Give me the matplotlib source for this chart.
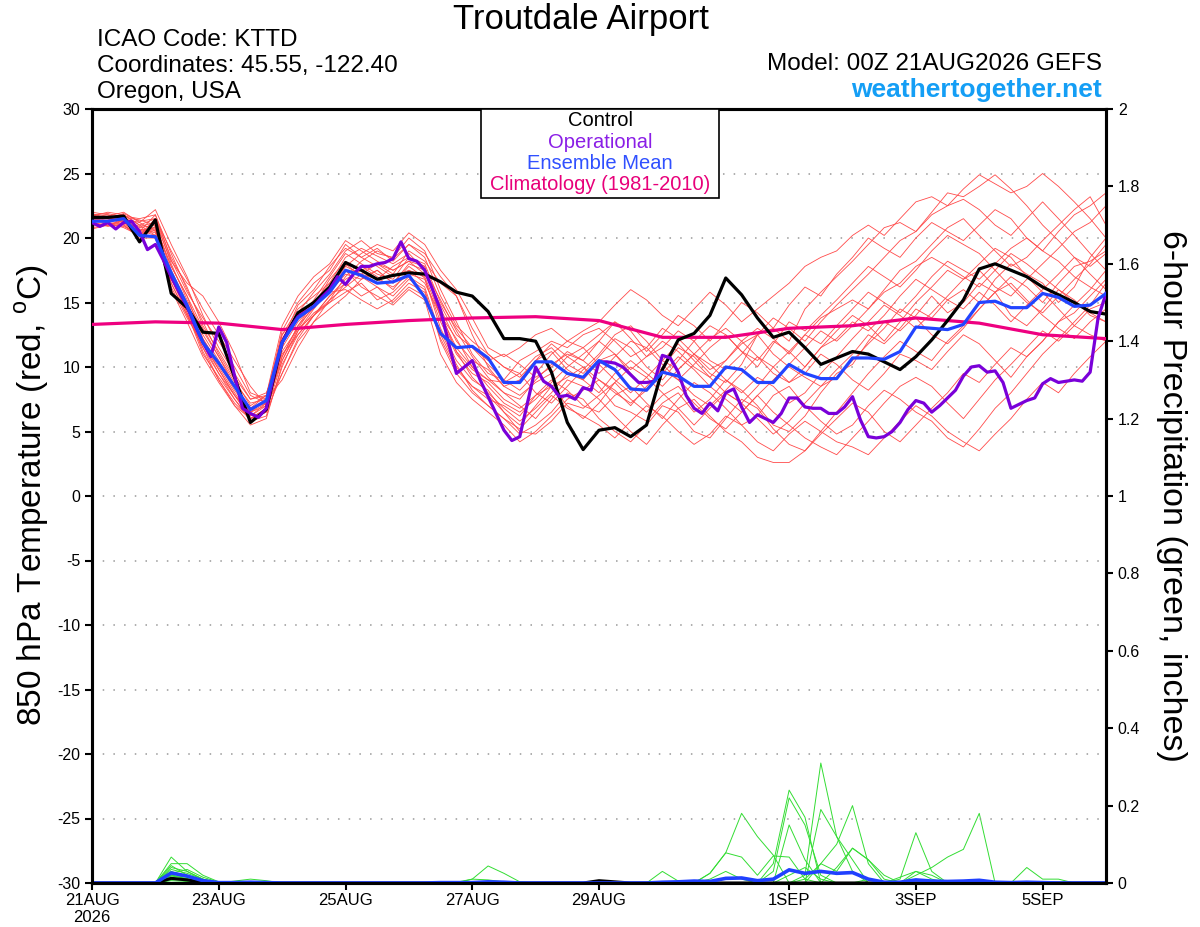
import numpy as np
import matplotlib
matplotlib.use("Agg")
import matplotlib.pyplot as plt
from matplotlib.patches import Rectangle

plt.rcParams['font.family'] = ['Liberation Sans', 'DejaVu Sans']
plt.rcParams['axes.unicode_minus'] = False
plt.rcParams['mathtext.fontset'] = 'custom'
plt.rcParams['mathtext.rm'] = 'Liberation Sans'

# ---------------------------------------------------------------
# données : pas de 6 h (65 points), opérationnel au pas de 3 h
# ---------------------------------------------------------------
heures = np.arange(0, 385, 6)
heures_oper = np.arange(0, 385, 3)
jours_clim = np.arange(0, 17)

controle = [21.6, 21.6, 21.7, 19.7, 21.4, 15.7, 14.6, 12.7, 12.6, 9.2, 5.7, 6.7, 11.9, 14.2, 15.0, 16.2,
            18.1, 17.5, 16.8, 17.1, 17.3, 17.2, 16.6, 15.8, 15.5, 14.3, 12.2, 12.2, 12.0, 9.6, 5.7, 3.6,
            5.1, 5.3, 4.6, 5.5, 9.8, 12.1, 12.6, 14.0, 16.9, 15.6, 13.8, 12.3, 12.7, 11.5, 10.2, 10.7,
            11.2, 11.0, 10.4, 9.8, 10.8, 12.1, 13.6, 15.2, 17.6, 18.0, 17.5, 17.0, 16.2, 15.6, 15.0, 14.3, 14.1]

moyenne = [21.3, 21.3, 21.5, 20.2, 20.1, 17.3, 14.8, 11.9, 10.3, 8.5, 6.7, 7.4, 11.9, 13.8, 14.7, 15.8,
           17.5, 17.1, 16.5, 16.6, 17.1, 15.4, 12.6, 11.5, 11.6, 10.7, 8.8, 8.8, 10.4, 10.4, 9.5, 9.2,
           10.5, 9.8, 8.3, 8.2, 9.6, 9.3, 8.5, 8.5, 10.0, 9.8, 8.8, 8.8, 10.2, 9.5, 9.1, 9.1,
           10.7, 10.7, 10.6, 11.2, 13.1, 13.0, 12.9, 13.3, 15.0, 15.1, 14.6, 14.6, 15.7, 15.4, 14.7, 14.8, 15.7]

operationnel = [21.2, 20.9, 21.2, 20.7, 21.2, 21.3, 20.5, 19.1, 19.5, 18.3, 17.0, 15.8, 14.7, 13.2, 11.9, 10.8,
                13.1, 11.9, 9.3, 6.8, 6.4, 6.1, 6.8, 9.5, 11.9, 13.0, 13.9, 14.3, 14.7, 15.4, 16.0, 17.0,
                16.4, 17.2, 17.8, 17.8, 18.0, 18.1, 18.4, 19.7, 18.4, 18.2, 17.5, 16.0, 14.4, 11.9, 9.5, 10.0,
                10.5, 9.0, 7.7, 6.4, 5.1, 4.3, 4.6, 7.3, 10.0, 8.9, 8.5, 7.7, 7.8, 7.5, 8.4, 8.2,
                10.4, 10.4, 10.3, 10.0, 9.4, 8.8, 8.8, 8.9, 10.9, 10.7, 9.6, 7.8, 6.8, 6.4, 7.2, 6.6,
                8.0, 8.3, 6.9, 5.7, 6.3, 6.0, 5.7, 6.4, 7.6, 7.6, 6.9, 6.8, 6.8, 6.4, 6.4, 6.9,
                7.7, 5.9, 4.6, 4.5, 4.6, 5.0, 5.7, 6.7, 7.4, 7.2, 6.5, 7.0, 7.6, 8.2, 9.3, 10.0,
                10.1, 9.6, 9.7, 8.8, 6.8, 7.1, 7.4, 7.6, 8.7, 9.1, 8.8, 8.9, 9.0, 8.9, 9.6, 13.8, 15.7]

climatologie = [13.3, 13.5, 13.4, 12.9, 13.3, 13.6, 13.8, 13.9, 13.6, 12.3, 12.3, 13.0, 13.2, 13.8, 13.4, 12.5, 12.2]

membres = [
    [21.8, 21.9, 21.6, 20.8, 21.0, 17.5, 15.0, 12.5, 10.5, 8.5, 6.5, 7.5, 12.5, 14.5, 15.5, 16.5,
     18.5, 19.2, 18.6, 18.0, 18.8, 17.5, 14.5, 12.0, 10.5, 9.8, 8.5, 9.0, 10.5, 11.2, 9.8, 9.0,
     10.5, 11.0, 9.5, 8.2, 10.0, 11.5, 10.8, 9.5, 8.8, 10.2, 12.5, 13.0, 12.0, 14.5, 15.8, 17.0,
     18.2, 19.5, 20.8, 21.2, 20.5, 22.0, 23.5, 23.2, 24.0, 24.9, 23.8, 22.5, 21.0, 19.8, 18.5, 17.2, 16.0],
    [21.2, 21.4, 21.8, 21.0, 20.2, 16.5, 14.0, 11.5, 9.5, 7.8, 6.0, 6.5, 10.5, 13.0, 14.8, 15.8,
     17.2, 16.8, 17.5, 16.5, 17.8, 16.9, 13.0, 10.5, 9.0, 8.2, 6.5, 5.5, 7.0, 8.5, 9.2, 10.0,
     8.5, 7.0, 6.5, 5.8, 7.2, 8.0, 6.5, 7.5, 9.0, 8.2, 7.0, 5.5, 5.0, 6.2, 8.0, 9.5,
     10.2, 12.0, 13.5, 12.8, 14.0, 15.5, 14.2, 15.0, 16.5, 15.8, 14.0, 13.2, 14.5, 16.0, 15.2, 14.0, 13.5],
    [20.8, 21.0, 21.2, 20.5, 21.8, 18.8, 16.0, 13.5, 11.0, 9.0, 7.0, 7.8, 12.0, 14.0, 15.0, 16.2,
     18.0, 17.0, 16.2, 15.5, 16.8, 16.0, 12.0, 9.5, 8.0, 7.0, 6.0, 4.8, 5.5, 6.5, 8.0, 7.5,
     6.0, 5.0, 4.2, 5.5, 7.0, 6.5, 5.0, 4.5, 6.0, 7.5, 6.8, 5.2, 4.0, 3.5, 4.8, 6.0,
     7.2, 6.5, 5.0, 4.2, 5.5, 6.8, 8.0, 9.5, 8.8, 10.2, 11.5, 10.8, 12.0, 13.5, 14.8, 16.0, 17.5],
    [21.5, 21.6, 21.0, 20.0, 20.0, 17.0, 14.8, 12.0, 10.0, 8.0, 6.2, 7.0, 11.8, 13.8, 15.2, 17.0,
     18.8, 18.0, 17.2, 16.8, 18.5, 18.0, 15.0, 13.0, 11.5, 10.2, 9.0, 10.5, 11.2, 12.0, 11.5, 12.5,
     13.0, 12.0, 10.8, 11.5, 13.0, 12.2, 11.0, 9.8, 10.5, 11.8, 12.5, 11.0, 10.0, 9.2, 8.5, 9.8,
     11.0, 12.5, 11.8, 13.0, 14.5, 13.8, 15.2, 16.0, 15.0, 16.8, 18.0, 17.2, 16.5, 15.0, 16.2, 18.5, 20.0],
    [22.0, 21.8, 21.5, 21.2, 22.2, 19.5, 17.0, 14.0, 11.5, 9.5, 7.5, 8.0, 11.0, 12.5, 14.0, 15.5,
     16.8, 17.5, 18.0, 17.2, 19.0, 18.2, 16.5, 15.5, 13.0, 11.0, 10.0, 9.5, 8.0, 7.2, 8.5, 9.8,
     11.0, 12.5, 13.2, 12.0, 10.5, 9.8, 11.0, 12.2, 13.0, 12.0, 10.8, 9.5, 8.8, 10.0, 11.5, 12.8,
     14.0, 13.2, 12.0, 13.5, 15.0, 16.2, 17.5, 16.8, 18.0, 19.2, 18.5, 17.0, 15.8, 14.5, 13.2, 12.5, 12.0],
    [21.0, 21.3, 21.5, 20.6, 20.8, 16.8, 14.2, 11.0, 9.2, 7.5, 5.8, 6.2, 10.0, 12.8, 14.2, 15.0,
     15.8, 16.5, 15.2, 15.8, 17.0, 16.2, 12.5, 10.0, 8.5, 7.5, 7.0, 6.2, 7.8, 9.0, 8.2, 7.0,
     6.5, 7.8, 8.5, 7.2, 6.0, 7.5, 8.8, 8.0, 6.8, 5.5, 6.2, 7.8, 8.5, 7.0, 5.8, 4.8,
     5.5, 7.0, 8.2, 7.5, 6.5, 5.8, 4.5, 3.8, 5.2, 6.8, 8.0, 9.5, 11.0, 12.2, 13.5, 14.8, 16.5],
    [21.6, 21.2, 20.8, 20.2, 21.5, 18.0, 15.2, 12.8, 10.8, 8.8, 7.2, 7.5, 12.8, 15.0, 16.5, 17.5,
     19.5, 18.5, 17.8, 17.0, 17.5, 16.5, 14.0, 11.5, 10.0, 9.0, 8.0, 7.5, 9.0, 10.2, 11.0, 10.5,
     12.0, 13.5, 12.8, 11.2, 12.5, 14.0, 13.2, 12.0, 13.5, 15.0, 14.2, 13.0, 14.8, 16.2, 15.5, 17.2,
     18.5, 20.0, 19.2, 18.5, 20.0, 21.2, 20.5, 19.8, 21.0, 22.2, 21.5, 20.0, 19.0, 20.5, 21.8, 22.5, 23.5],
    [21.4, 21.7, 22.0, 21.2, 20.5, 17.2, 14.5, 11.2, 9.0, 7.2, 6.0, 6.8, 10.8, 13.2, 14.6, 16.0,
     17.5, 16.2, 15.5, 14.8, 16.0, 15.2, 11.0, 8.8, 7.5, 6.5, 5.5, 4.2, 5.0, 6.2, 7.5, 8.2,
     9.0, 8.2, 7.0, 8.5, 9.8, 9.0, 7.8, 7.0, 8.2, 9.5, 10.8, 10.0, 8.8, 9.5, 11.0, 10.2,
     9.0, 8.2, 9.5, 11.0, 10.5, 9.8, 11.2, 12.5, 11.8, 10.5, 9.2, 10.8, 12.0, 13.5, 14.2, 15.5, 16.8],
    [21.1, 21.0, 21.4, 20.9, 21.2, 18.2, 16.5, 15.5, 13.5, 11.0, 8.0, 7.5, 9.0, 11.5, 13.5, 15.2,
     17.0, 18.2, 19.0, 18.4, 19.5, 18.8, 17.0, 15.5, 12.5, 10.0, 8.5, 7.8, 8.8, 9.5, 10.8, 11.5,
     10.2, 9.0, 8.0, 9.2, 10.5, 11.8, 10.5, 9.2, 8.0, 7.2, 8.5, 10.0, 11.2, 12.5, 11.8, 13.2,
     14.5, 15.8, 15.0, 14.2, 15.5, 17.0, 18.2, 17.5, 16.8, 18.0, 19.2, 20.0, 19.0, 18.2, 17.0, 16.2, 15.5],
    [21.9, 21.5, 21.2, 20.4, 20.0, 16.2, 13.8, 11.8, 9.8, 7.8, 6.2, 7.2, 11.5, 13.5, 14.8, 16.8,
     18.2, 17.5, 16.8, 16.2, 17.2, 16.8, 13.5, 11.0, 9.5, 8.8, 7.5, 6.8, 7.8, 8.5, 7.0, 6.0,
     7.2, 8.8, 10.0, 9.2, 8.0, 6.8, 5.5, 6.8, 8.0, 7.2, 6.0, 4.8, 5.8, 7.2, 8.5, 9.2,
     10.5, 11.8, 13.0, 14.5, 13.8, 12.5, 11.8, 13.0, 14.5, 15.8, 17.0, 16.2, 15.0, 16.5, 17.8, 18.2, 19.0],
    [21.3, 21.5, 21.6, 21.4, 21.0, 17.8, 15.5, 12.2, 10.2, 8.2, 6.5, 7.0, 12.2, 14.2, 15.8, 17.2,
     19.0, 19.8, 18.8, 18.5, 20.0, 19.0, 16.0, 13.5, 11.0, 9.5, 9.0, 8.2, 9.5, 11.0, 12.0, 12.8,
     13.5, 14.8, 16.0, 15.2, 14.0, 13.2, 14.5, 15.8, 14.8, 13.5, 14.5, 15.5, 16.5, 17.8, 18.5, 19.0,
     20.2, 21.0, 20.2, 21.5, 22.8, 23.2, 22.5, 23.8, 24.9, 24.2, 23.5, 24.0, 25.0, 24.0, 22.8, 21.5, 20.0],
    [20.9, 21.2, 21.0, 20.2, 20.6, 16.5, 14.0, 11.5, 9.0, 7.0, 5.5, 6.0, 10.2, 12.5, 14.0, 15.5,
     16.5, 15.5, 16.2, 15.0, 16.2, 15.5, 12.8, 10.2, 8.2, 7.0, 6.0, 5.2, 6.5, 7.8, 6.8, 6.2,
     5.5, 4.5, 5.8, 7.0, 6.2, 5.0, 4.0, 4.8, 6.2, 5.5, 4.2, 3.5, 4.8, 5.8, 5.0, 4.2,
     3.8, 3.2, 4.5, 5.8, 7.0, 6.2, 5.0, 4.2, 3.5, 4.8, 6.0, 7.5, 8.8, 8.0, 9.5, 10.8, 12.0],
    [21.7, 22.0, 21.8, 21.0, 21.5, 18.5, 16.2, 13.2, 11.2, 9.2, 7.5, 7.8, 13.2, 15.5, 17.0, 18.0,
     19.8, 19.0, 18.2, 17.5, 18.2, 17.2, 14.8, 12.5, 11.5, 10.5, 11.0, 10.2, 9.2, 10.0, 11.2, 10.5,
     9.5, 10.8, 12.0, 11.5, 10.2, 9.0, 10.2, 11.5, 12.5, 11.2, 10.0, 11.8, 13.5, 12.8, 14.0, 15.2,
     16.5, 17.8, 17.0, 16.2, 17.5, 19.0, 20.2, 19.5, 18.8, 17.5, 16.2, 15.0, 14.2, 15.5, 16.8, 18.0, 19.5],
    [21.0, 21.1, 21.3, 20.7, 20.4, 16.0, 13.5, 10.8, 8.8, 7.0, 6.0, 6.5, 9.5, 12.0, 13.5, 14.5,
     15.5, 16.8, 17.5, 16.5, 18.0, 17.5, 15.2, 12.8, 10.8, 9.2, 8.0, 7.0, 6.0, 7.5, 9.0, 8.5,
     7.5, 6.2, 5.0, 4.0, 5.5, 6.8, 7.5, 6.2, 5.0, 4.2, 3.0, 2.6, 2.6, 3.5, 5.0, 6.5,
     8.0, 9.5, 10.8, 12.0, 11.2, 10.5, 12.0, 13.2, 14.5, 15.8, 16.5, 15.2, 14.0, 13.0, 12.2, 13.5, 14.5],
    [21.5, 21.3, 21.7, 21.5, 21.8, 18.3, 15.8, 13.8, 12.0, 10.0, 7.8, 7.2, 10.5, 12.8, 14.5, 16.0,
     17.8, 18.8, 19.5, 19.0, 20.4, 19.5, 17.5, 16.0, 13.8, 11.5, 10.8, 11.5, 12.5, 13.0, 12.0, 11.5,
     12.5, 13.5, 12.2, 10.8, 11.5, 12.8, 12.0, 10.5, 9.8, 11.0, 12.5, 13.8, 13.0, 12.0, 13.5, 14.8,
     16.0, 17.2, 18.5, 19.8, 20.5, 21.8, 22.5, 23.0, 22.2, 21.0, 20.2, 21.5, 22.8, 21.5, 20.2, 18.8, 17.5],
    [21.2, 20.9, 21.1, 20.3, 20.9, 17.0, 14.2, 11.8, 9.5, 7.5, 6.0, 6.8, 11.2, 13.0, 14.0, 15.2,
     16.2, 17.2, 16.8, 17.8, 18.5, 17.8, 14.2, 11.2, 9.2, 8.0, 6.8, 5.8, 6.8, 8.0, 9.5, 9.0,
     8.0, 9.5, 10.5, 9.5, 8.5, 9.8, 11.0, 10.2, 9.0, 8.0, 9.2, 8.5, 7.2, 8.0, 9.5, 10.8,
     12.2, 13.5, 14.8, 14.0, 13.0, 14.2, 15.5, 16.8, 17.5, 16.2, 15.5, 16.8, 18.0, 19.2, 20.5, 21.2, 22.5],
    [21.6, 21.8, 21.4, 20.6, 20.2, 16.8, 14.6, 12.2, 10.2, 8.5, 6.8, 7.2, 12.0, 14.8, 16.0, 17.8,
     19.2, 18.5, 19.2, 18.2, 19.5, 18.5, 15.5, 13.2, 12.0, 11.0, 10.0, 9.2, 10.5, 11.8, 10.8, 10.0,
     9.0, 8.0, 7.2, 8.2, 9.5, 10.8, 9.8, 8.5, 7.5, 6.5, 7.8, 9.0, 10.2, 11.5, 12.8, 12.0,
     13.2, 14.5, 15.8, 16.5, 17.8, 18.5, 17.8, 17.0, 16.2, 17.5, 18.8, 18.0, 17.0, 16.0, 15.0, 14.2, 13.5],
    [20.7, 21.0, 20.9, 20.3, 20.7, 17.2, 14.8, 12.0, 9.8, 7.8, 6.5, 7.2, 10.8, 13.2, 15.0, 15.8,
     16.0, 15.2, 14.5, 15.2, 16.5, 15.8, 12.2, 9.8, 8.5, 7.8, 6.5, 5.0, 4.8, 5.8, 7.2, 6.8,
     7.8, 8.8, 7.5, 6.5, 7.8, 8.5, 7.2, 6.0, 5.2, 6.5, 7.8, 6.5, 5.5, 4.5, 3.8, 3.2,
     4.5, 5.8, 7.2, 8.5, 9.2, 8.5, 7.2, 6.0, 7.5, 9.0, 10.2, 11.5, 12.8, 12.0, 13.2, 14.5, 15.0],
    [21.4, 21.6, 21.3, 20.5, 20.8, 17.8, 15.5, 13.0, 10.8, 8.5, 6.8, 7.8, 12.5, 14.0, 15.0, 16.5,
     17.8, 17.2, 18.0, 17.5, 18.2, 17.8, 13.8, 11.2, 9.8, 9.0, 8.8, 9.5, 10.8, 11.5, 10.2, 9.5,
     10.8, 12.2, 11.5, 10.0, 9.0, 10.5, 12.0, 13.2, 12.5, 11.2, 10.5, 12.0, 11.2, 10.0, 11.5, 12.2,
     13.5, 12.8, 14.0, 15.5, 16.8, 16.0, 15.2, 14.5, 15.8, 14.8, 13.5, 14.8, 16.0, 17.2, 18.5, 17.8, 18.8],
    [21.8, 21.5, 21.9, 21.3, 21.5, 19.0, 16.8, 14.5, 12.5, 10.5, 8.5, 7.0, 9.5, 12.2, 14.0, 15.0,
     16.5, 17.8, 17.0, 16.0, 17.5, 17.0, 14.0, 12.2, 10.0, 8.5, 7.2, 6.5, 7.5, 8.8, 10.0, 11.0,
     12.0, 11.0, 9.8, 10.8, 12.0, 11.2, 10.0, 9.2, 10.5, 12.0, 13.0, 12.2, 11.0, 12.5, 13.8, 14.5,
     15.2, 14.5, 16.0, 17.5, 18.2, 19.5, 20.8, 21.5, 20.2, 19.0, 17.8, 18.5, 19.8, 21.0, 22.2, 23.2, 21.0],
]

# précipitations sur 6 h (pouces) : seuls quelques membres ont de la pluie
Z = [0.0] * 65
precip_membres = [
    [0, 0, 0, 0, 0, 0.067, 0.03, 0.01, 0, 0, 0, 0, 0, 0, 0, 0] + [0] * 49,
    [0, 0, 0, 0, 0, 0.05, 0.05, 0.02, 0.003, 0, 0, 0, 0, 0, 0, 0] + [0] * 20
    + [0, 0, 0, 0.025, 0.078, 0.18, 0.12, 0.072, 0.0, 0, 0, 0, 0, 0, 0, 0] + [0] * 13,
    [0, 0, 0, 0, 0, 0.045, 0.02, 0.005, 0, 0.005, 0.01, 0.006, 0, 0, 0, 0] + [0] * 29
    + [0.02, 0.31, 0.12, 0.03, 0, 0, 0, 0, 0, 0, 0, 0, 0, 0, 0, 0, 0, 0, 0, 0],
    [0, 0, 0, 0, 0, 0.04, 0.03, 0.01, 0, 0, 0, 0, 0, 0, 0, 0] + [0] * 27
    + [0.05, 0.24, 0.17, 0.0, 0, 0, 0, 0, 0, 0, 0, 0, 0, 0, 0, 0, 0, 0, 0, 0, 0, 0],
    [0, 0, 0, 0, 0, 0.035, 0.025, 0.01, 0, 0, 0, 0, 0, 0, 0, 0] + [0] * 27
    + [0.03, 0.22, 0.15, 0.02, 0, 0, 0, 0, 0, 0, 0, 0, 0, 0, 0, 0, 0, 0, 0, 0, 0, 0],
    [0, 0, 0, 0, 0, 0.03, 0.015, 0.005, 0, 0, 0, 0, 0, 0, 0, 0] + [0] * 29
    + [0.0, 0.19, 0.12, 0.06, 0.0, 0, 0, 0, 0, 0, 0, 0, 0, 0, 0, 0, 0, 0, 0, 0],
    [0, 0, 0, 0, 0, 0.025, 0.035, 0.015, 0.002, 0, 0, 0, 0, 0, 0, 0] + [0] * 30
    + [0.05, 0.10, 0.20, 0.05, 0.0, 0, 0, 0, 0, 0, 0, 0, 0, 0, 0, 0, 0, 0, 0],
    [0, 0, 0, 0, 0, 0.02, 0.01, 0.003, 0, 0, 0.004, 0.003, 0, 0, 0, 0] + [0] * 35
    + [0.01, 0.13, 0.03, 0.0, 0, 0, 0, 0, 0, 0, 0, 0, 0, 0],
    [0, 0, 0, 0, 0, 0.015, 0.008, 0, 0, 0, 0, 0, 0, 0, 0, 0] + [0] * 36
    + [0.02, 0.04, 0.067, 0.087, 0.18, 0.0, 0, 0.04, 0.01, 0.01, 0, 0, 0],
    [0, 0, 0, 0, 0, 0.028, 0.02, 0.006, 0, 0, 0, 0, 0, 0, 0, 0] + [0] * 20
    + [0, 0, 0, 0.025, 0.078, 0.067, 0.02, 0.07, 0.067, 0.01, 0, 0, 0, 0, 0, 0] + [0] * 13,
    [0, 0, 0, 0, 0, 0.02, 0.015, 0.004, 0, 0, 0, 0, 0, 0, 0, 0] + [0] * 28
    + [0.15, 0.06, 0.0, 0, 0, 0, 0, 0, 0, 0, 0, 0, 0, 0, 0, 0, 0, 0, 0, 0, 0],
    [0, 0, 0, 0, 0, 0.018, 0.012, 0, 0, 0, 0, 0, 0, 0, 0, 0] + [0] * 31
    + [0.04, 0.09, 0.06, 0.01, 0, 0, 0, 0, 0, 0, 0, 0, 0, 0, 0, 0, 0, 0],
    [0, 0, 0, 0, 0, 0.012, 0.008, 0.002, 0, 0, 0, 0, 0, 0, 0, 0, 0, 0, 0, 0, 0, 0, 0, 0, 0.01, 0.044, 0.025, 0.003]
    + [0] * 23 + [0.0, 0.03, 0.02, 0.0, 0, 0, 0, 0, 0, 0, 0, 0, 0, 0],
    [0, 0, 0, 0, 0, 0.01, 0.005, 0, 0, 0, 0, 0, 0, 0, 0, 0, 0, 0, 0, 0, 0, 0, 0.003, 0.002, 0.01, 0.008, 0.003, 0]
    + [0] * 8 + [0.03, 0.005, 0, 0.01, 0.03, 0.01, 0, 0, 0.02, 0.04, 0.01, 0, 0, 0, 0, 0, 0, 0, 0, 0, 0, 0, 0, 0, 0, 0, 0, 0, 0],
    [0, 0, 0, 0, 0, 0.008, 0.01, 0.004, 0, 0, 0, 0, 0, 0, 0, 0] + [0] * 33
    + [0.01, 0.0, 0.015, 0.03, 0.01, 0, 0, 0, 0, 0, 0, 0, 0, 0, 0, 0],
    [0, 0, 0, 0, 0, 0.006, 0.004, 0, 0, 0, 0, 0, 0, 0, 0, 0] + [0] * 29
    + [0.01, 0.05, 0.03, 0.09, 0.06, 0.02, 0, 0, 0, 0, 0, 0, 0, 0, 0, 0, 0, 0, 0, 0],
    Z, Z, Z, Z,
]

precip_moyenne = [0, 0, 0, 0, 0, 0.026, 0.018, 0.006, 0.001, 0.001, 0.002, 0.001, 0, 0, 0, 0,
                  0, 0, 0, 0, 0, 0, 0.001, 0.001, 0.001, 0.003, 0.002, 0, 0, 0, 0, 0,
                  0, 0, 0, 0, 0.002, 0.003, 0.005, 0.004, 0.012, 0.013, 0.006, 0.01, 0.034, 0.025, 0.03, 0.025,
                  0.027, 0.01, 0.002, 0.002, 0.008, 0.005, 0.004, 0.005, 0.007, 0.002, 0.001, 0.002, 0.001, 0, 0, 0, 0]

precip_controle = [0, 0, 0, 0, 0, 0.012, 0.008, 0.002, 0, 0, 0, 0, 0, 0, 0, 0,
                   0, 0, 0, 0, 0, 0, 0, 0, 0, 0, 0, 0, 0, 0, 0, 0,
                   0.006, 0.003, 0, 0, 0, 0, 0, 0, 0, 0, 0, 0, 0, 0, 0, 0,
                   0, 0, 0, 0, 0, 0, 0, 0, 0, 0, 0, 0, 0, 0, 0, 0, 0]

jours_ticks = [0, 2, 4, 6, 8, 11, 13, 15]
etiquettes_ticks = ["21AUG\n2026", "23AUG", "25AUG", "27AUG", "29AUG", "1SEP", "3SEP", "5SEP"]

# ---------------------------------------------------------------
fig = plt.figure(figsize=(12, 9.27), dpi=100)
ax = fig.add_axes([92 / 1200, 44 / 927, 1014 / 1200, 774 / 927])
ax2 = ax.twinx()

t = heures / 24.0
t_oper = heures_oper / 24.0

# précipitations (axe de droite)
for p in precip_membres:
    ax2.plot(t, p, color='#33dd33', lw=0.7, zorder=2)
ax2.plot(t, precip_controle, color='black', lw=2.2, zorder=3)
ax2.plot(t, precip_moyenne, color='#2040ff', lw=2.6, zorder=4)
ax2.set_ylim(0, 2)
ax2.set_yticks(np.arange(0, 2.01, 0.2))
ax2.set_yticklabels([f"{v:g}" for v in np.arange(0, 2.01, 0.2).round(1)])

# températures (axe de gauche)
for m in membres:
    ax.plot(t, m, color='#ff4a4a', lw=0.6, zorder=2)
ax.plot(t, controle, color='black', lw=2.3, zorder=4)
ax.plot(t_oper, operationnel, color='#7a00d9', lw=2.3, zorder=5)
ax.plot(jours_clim, climatologie, color='#ee0080', lw=2.3, zorder=3)
ax.plot(t, moyenne, color='#2244ff', lw=2.3, zorder=6)

ax.set_xlim(0, 16)
ax.set_ylim(-30, 30)
ax.set_yticks(np.arange(-30, 31, 5))
ax.set_xticks(jours_ticks)
ax.set_xticklabels(etiquettes_ticks)
for y in range(-25, 30, 5):
    ax.axhline(y, color='#999999', lw=1.1, ls=(0, (1, 6)), zorder=1)

# le twinx passe devant : on remet les courbes de température au premier plan
ax.set_zorder(ax2.get_zorder() + 1)
ax.patch.set_visible(False)

for a in (ax, ax2):
    for s in a.spines.values():
        s.set_linewidth(2.2)
    a.tick_params(labelsize=11.5, width=1.5, length=5, direction='out')
ax.tick_params(axis='x', labelsize=12, pad=2)

# cadre de la légende
ax.add_patch(Rectangle((0.3836, 0.885), 0.2347, 0.115, transform=ax.transAxes,
                       fill=True, facecolor='white', edgecolor='black', lw=1.2, zorder=10))
legende = [("Control", 'black'), ("Operational", '#8a1ee6'),
           ("Ensemble Mean", '#3050ff'), ("Climatology (1981-2010)", '#e8007a')]
for k, (txt, col) in enumerate(legende):
    ax.text(0.501, 0.9845 - k * 0.0275, txt, color=col, fontsize=14.5, ha='center', va='center',
            transform=ax.transAxes, zorder=11)

# textes de l'en-tête
fig.text(0.484, 1 - 19 / 927, "Troutdale Airport", fontsize=25, ha='center', va='center')
fig.text(97 / 1200, 1 - 40 / 927, "ICAO Code: KTTD", fontsize=17.5, va='center')
fig.text(97 / 1200, 1 - 66 / 927, "Coordinates: 45.55, -122.40", fontsize=17.5, va='center')
fig.text(97 / 1200, 1 - 92 / 927, "Oregon, USA", fontsize=17.5, va='center')
fig.text(1102 / 1200, 1 - 64 / 927, "Model: 00Z 21AUG2026 GEFS", fontsize=17.5, ha='right', va='center')
fig.text(1102 / 1200, 1 - 90 / 927, "weathertogether.net", fontsize=19, ha='right', va='center',
         color='#149ef5', fontweight='bold')

fig.text(32 / 1200, 1 - 495 / 927, r"850 hPa Temperature (red, $^{\mathrm{o}}$C)", fontsize=24,
         rotation=90, ha='center', va='center')
fig.text(1172 / 1200, 1 - 496 / 927, "6-hour Precipitation (green, inches)", fontsize=24.5,
         rotation=270, ha='center', va='center')

fig.savefig("out.png", dpi=100)
